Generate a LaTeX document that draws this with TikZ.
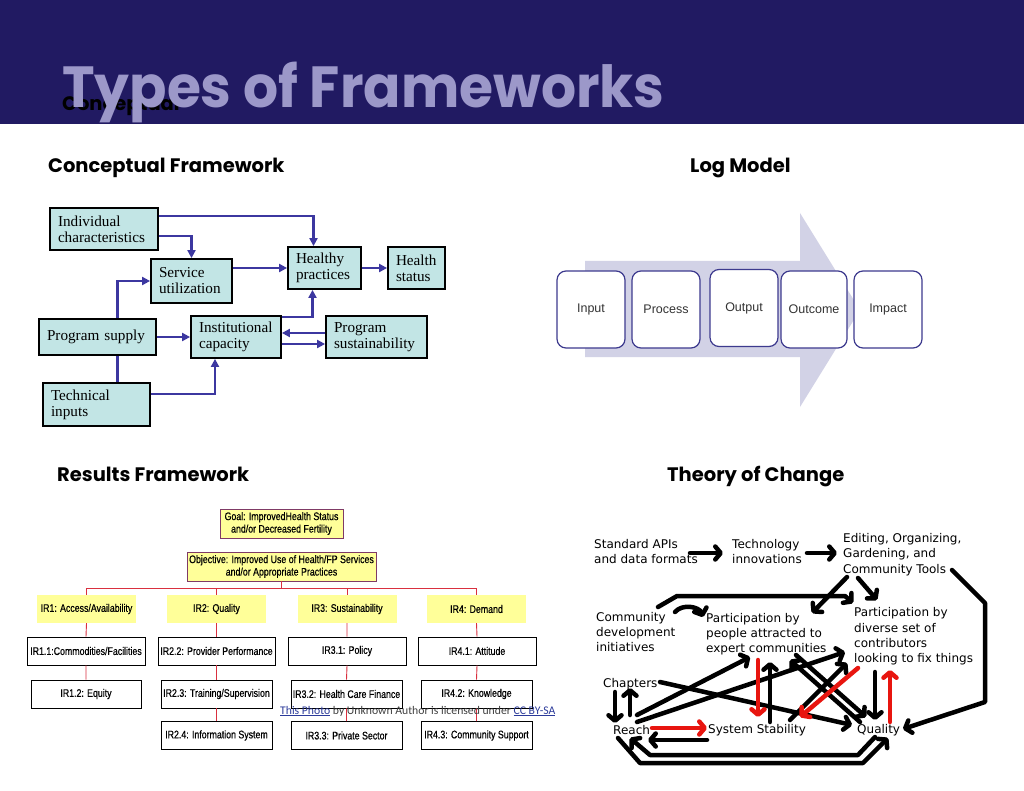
\documentclass[tikz,border=0pt]{standalone}
\usepackage{fontspec}
\setmainfont{Liberation Serif}
\newfontfamily\gothic{Poppins}
\newfontfamily\titlefont[FakeStretch=0.95]{Poppins}
\newfontfamily\arialfont{Liberation Sans}
\newfontfamily\narrowfont[FakeStretch=0.8,FakeBold=0.5]{Liberation Sans}
\newfontfamily\sketchfont{DejaVu Sans}
\newfontfamily\calibrifont{Carlito}
\usetikzlibrary{arrows.meta,positioning,calc}

\definecolor{barblue}{HTML}{211A62}
\definecolor{titlegray}{HTML}{9C98C9}
\definecolor{cfteal}{HTML}{C2E5E5}
\definecolor{cfblue}{HTML}{3C37A0}
\definecolor{logfill}{HTML}{D2D2E6}
\definecolor{logborder}{HTML}{3D3A8E}
\definecolor{rfyellow}{HTML}{FFFF99}
\definecolor{rfborder}{HTML}{7F3A66}
\definecolor{rfred}{HTML}{D9303F}
\definecolor{linkblue}{HTML}{2B3A9A}
\definecolor{tocredc}{HTML}{E8150F}

\begin{document}
\begin{tikzpicture}[x=1pt, y=-1pt,
    heading/.style={anchor=base west, inner sep=0pt, font=\gothic\bfseries\fontsize{19.5}{22}\selectfont, text=black},
    cfbox/.style={draw=black, line width=1.8pt, fill=cfteal, align=left, inner xsep=8pt, inner ysep=2pt, font=\fontsize{15.2}{16}\selectfont},
    cfarrow/.style={draw=cfblue, line width=2.3pt, -{Triangle[length=8pt,width=8pt]}},
    cfline/.style={draw=cfblue, line width=2.3pt},
    logbox/.style={draw=logborder, line width=1.2pt, fill=white, rounded corners=9pt, minimum width=68pt, minimum height=77pt, font=\arialfont\fontsize{12.5}{14}\selectfont, text=black!80},
    rfgoal/.style={draw=rfborder, line width=0.9pt, fill=rfyellow, align=center, inner sep=1pt, font=\narrowfont\fontsize{11}{12.5}\selectfont},
    rfir/.style={fill=rfyellow, minimum width=99pt, minimum height=28pt, inner sep=1pt, font=\narrowfont\fontsize{11}{12.5}\selectfont},
    rfsub/.style={draw=black, line width=0.9pt, fill=white, minimum height=28pt, inner sep=1pt, font=\narrowfont\fontsize{11}{12.5}\selectfont},
    rfline/.style={draw=rfred, line width=0.9pt},
    tocnode/.style={anchor=west, inner sep=0pt, align=left, font=\sketchfont\fontsize{12}{15.3}\selectfont},
    tocarrow/.style={draw=black, line width=4.5pt, line cap=round, line join=round, -{Straight Barb[length=5.5pt,width=13pt,round]}},
    tocred/.style={tocarrow, draw=tocredc}
]
\useasboundingbox (0,0) rectangle (1024,791);
\fill[white] (0,0) rectangle (1024,791);

% title bar
\fill[barblue] (0,0) rectangle (1024,124);
\node[heading] (ghost) at (62,111) {Conceptual};
\node[anchor=base west, inner sep=0pt, font=\titlefont\bfseries\fontsize{58}{58}\selectfont, text=titlegray] (title) at (62,108) {Types of Frameworks};

\node[heading] (cfhead) at (48,172.5) {Conceptual Framework};
\node[heading] (loghead) at (690,172.5) {Log Model};
\node[heading] (rfhead) at (57,481.5) {Results Framework};
\node[heading] (tochead) at (667,481.5) {Theory of Change};

% conceptual framework
\node[cfbox, text width=92pt, minimum height=42pt] (indiv) at (104,229) {Individual\\characteristics};
\node[cfbox, text width=65pt, minimum height=44pt] (service) at (191.5,281) {Service\\utilization};
\node[cfbox, text width=57pt, minimum height=42pt] (healthy) at (324.5,268) {Healthy\\practices};
\node[cfbox, text width=41pt, minimum height=42pt] (hstatus) at (416.5,268) {Health\\status};
\node[cfbox, text width=101pt, minimum height=36pt] (psupply) at (97.5,337) {Program supply};
\node[cfbox, text width=74pt, minimum height=42pt] (inst) at (236,337) {Institutional\\capacity};
\node[cfbox, text width=85pt, minimum height=42pt] (psust) at (376.5,337) {Program\\sustainability};
\node[cfbox, text width=91pt, minimum height=43pt] (tech) at (96.5,404.5) {Technical\\inputs};

\draw[cfarrow] ([yshift=-9pt]indiv.north east) -| ([xshift=-11pt]healthy.north);
\draw[cfarrow] ([yshift=-29pt]indiv.north east) -| (service.north);
\draw[cfarrow] (healthy.west -| service.east) -- (healthy.west);
\draw[cfarrow] (healthy.east) -- (hstatus.west);
\draw[cfarrow] ([xshift=20pt]psupply.north) |- (service.west);
\draw[cfarrow] (psupply.east) -- (psupply.east -| inst.west);
\draw[cfline] ([xshift=20pt]psupply.south) -- ([xshift=20pt]psupply.south |- tech.north);
\draw[cfarrow] ([yshift=-12pt]tech.north east) -| ([xshift=-21pt]inst.south);
\draw[cfarrow] ([yshift=-2pt]inst.north east) -| ([xshift=-12pt]healthy.south);
\draw[cfarrow] ([yshift=4pt]psust.west) -- ([yshift=4pt]psust.west -| inst.east);
\draw[cfarrow] ([yshift=-7pt]inst.east) -- ([yshift=-7pt]inst.east -| psust.west);

% log model
\fill[logfill] (585,261) -- (800,261) -- (800,213) -- (860,310) -- (800,407) -- (800,357) -- (585,357) -- cycle;
\node[logbox] (input) at (591,309.5) {Input};
\node[logbox] (process) at (666,309.5) {Process};
\node[logbox] (output) at (744,308) {Output};
\node[logbox, minimum width=66pt] (outcome) at (814,309.5) {Outcome};
\node[logbox] (impact) at (888,309.5) {Impact};

% results framework
\node[rfgoal, minimum width=123pt, minimum height=29pt] (goal) at (281.5,523.5) {Goal: ImprovedHealth Status\\and/or Decreased Fertility};
\node[rfgoal, minimum width=189pt, minimum height=29pt] (objective) at (281.5,566.5) {Objective: Improved Use of Health/FP Services\\and/or Appropriate Practices};
\node[rfir] (ir1) at (86.5,609) {IR1: Access/Availability};
\node[rfir] (ir2) at (216.5,609) {IR2: Quality};
\node[rfir] (ir3) at (347,609) {IR3: Sustainability};
\node[rfir] (ir4) at (476.5,609) {IR4: Demand};
\node[rfsub, minimum width=118pt] (ir11) at (86,651) {IR1.1:Commodities/Facilities};
\node[rfsub, minimum width=117pt] (ir22) at (216.5,651) {IR2.2: Provider Performance};
\node[rfsub, minimum width=118pt] (ir31) at (347,651) {IR3.1: Policy};
\node[rfsub, minimum width=118pt] (ir41) at (477,651) {IR4.1: Attitude};
\node[rfsub, minimum width=110pt] (ir12) at (86,694) {IR1.2: Equity};
\node[rfsub, minimum width=111pt] (ir23) at (216.5,694) {IR2.3: Training/Supervision};
\node[rfsub, minimum width=111pt] (ir32) at (346.5,694) {IR3.2: Health Care Finance};
\node[rfsub, minimum width=111pt] (ir42) at (476.5,694) {IR4.2: Knowledge};
\node[rfsub, minimum width=111pt] (ir24) at (216.5,735.5) {IR2.4: Information System};
\node[rfsub, minimum width=111pt] (ir33) at (346.5,735.5) {IR3.3: Private Sector};
\node[rfsub, minimum width=111pt] (ir43) at (476.5,735.5) {IR4.3: Community Support};

\coordinate[below=7pt of objective.south] (branch);
\draw[rfline] (objective.south) -- (branch);
\draw[rfline] (ir1.north |- branch) -- (ir4.north |- branch);
\draw[rfline] (ir1.north |- branch) -- (ir1.north) (ir2.north |- branch) -- (ir2.north)
  (ir3.north |- branch) -- (ir3.north) (ir4.north |- branch) -- (ir4.north);
\draw[rfline] (ir1.south) -- (ir11.north) (ir11.south) -- (ir12.north);
\draw[rfline] (ir2.south) -- (ir22.north) (ir22.south) -- (ir23.north) (ir23.south) -- (ir24.north);
\draw[rfline] (ir3.south) -- (ir31.north) (ir31.south) -- (ir32.north) (ir32.south) -- (ir33.north);
\draw[rfline] (ir4.south) -- (ir41.north) (ir41.south) -- (ir42.north) (ir42.south) -- (ir43.north);

\node[anchor=west, inner sep=0pt, font=\calibrifont\fontsize{11.7}{12}\selectfont, text=black!75] (credit) at (280,711)
  {\textcolor{linkblue}{\underline{This Photo}} by Unknown Author is licensed under \textcolor{linkblue}{\underline{CC BY-SA}}};

% theory of change
\node[tocnode] (apis) at (594,551.5) {Standard APIs\\and data formats};
\node[tocnode] (techinno) at (732,551.5) {Technology\\innovations};
\node[tocnode] (editing) at (843,554.5) {Editing, Organizing,\\Gardening, and\\Community Tools};
\node[tocnode] (community) at (596,632) {Community\\development\\initiatives};
\node[tocnode] (partpeople) at (706,634) {Participation by\\people attracted to\\expert communities};
\node[tocnode] (partdiverse) at (854,636.5) {Participation by\\diverse set of\\contributors\\looking to fix things};
\node[tocnode] (chapters) at (603,684) {Chapters};
\node[tocnode] (reach) at (613,730) {Reach};
\node[tocnode] (stability) at (708,730) {System Stability};
\node[tocnode] (quality) at (857,730) {Quality};

\draw[tocarrow] ($(apis.west)+(96,1.5)$) -- ($(techinno.west)+(-9,1.5)$);
\draw[tocarrow] ($(techinno.west)+(75,1.5)$) -- ($(editing.west)+(-6,-1.5)$);
\draw[tocarrow] ($(editing.west)+(4,22.5)$) -- ($(partpeople.west)+(106,-21)$);
\draw[tocarrow] ($(editing.west)+(15,23.5)$) -- ($(partdiverse.west)+(23,-36.5)$);
\draw[tocarrow] ($(community.west)+(62,-25)$) -- ($(community.west)+(81,-36)$) -- ($(partdiverse.west)+(-9,-40.5)$) -- ($(partdiverse.west)+(-1,-33.5)$);
\draw[tocarrow] ($(community.west)+(79,-20)$) to[bend left=60] ($(partpeople.west)+(-3,-17)$);
\draw[tocarrow] ($(editing.west)+(109,15.5)$) -- ++(33,33) -- ++(0,99) -- ($(quality.west)+(46,-1)$);
\draw[tocarrow] ($(chapters.west)+(12,8)$) -- ($(reach.west)+(2,-7)$);
\draw[tocarrow] ($(reach.west)+(17,-15)$) -- ($(chapters.west)+(27,4)$);
\draw[tocarrow] ($(reach.west)+(24,-15)$) -- ($(partpeople.west)+(44,23)$);
\draw[tocarrow] ($(reach.west)+(24,-8)$) -- ($(partdiverse.west)+(-9,15.5)$);
\draw[tocarrow] ($(chapters.west)+(57,-2)$) -- ($(quality.west)+(-5,-5)$);
\draw[tocred] ($(reach.west)+(39,-2)$) -- ($(stability.west)+(-1,-2)$);
\draw[tocarrow] ($(stability.west)+(-1,10)$) -- ($(reach.west)+(35,10)$);
\draw[tocred] ($(partpeople.west)+(52,26)$) -- ($(stability.west)+(50,-13)$);
\draw[tocarrow] ($(stability.west)+(62,-8)$) -- ($(partpeople.west)+(64,28)$);
\draw[tocarrow] ($(quality.west)+(3,-8)$) -- ($(partpeople.west)+(84,26)$);
\draw[tocarrow] ($(partpeople.west)+(90,21)$) -- ($(quality.west)+(9,-13)$);
\draw[tocarrow] ($(stability.west)+(82,-10)$) -- ($(partdiverse.west)+(-7,26.5)$);
\draw[tocred] ($(partdiverse.west)+(4,31.5)$) -- ($(stability.west)+(92,-13)$);
\draw[tocarrow] ($(partdiverse.west)+(21,35.5)$) -- ($(quality.west)+(18,-10)$);
\draw[tocred] ($(quality.west)+(33,-8)$) -- ($(partdiverse.west)+(36,33.5)$);
\draw[tocarrow] ($(reach.west)+(5,8)$) -- ++(22,25) -- ++(223,0) -- ($(quality.west)+(31,8)$);
\draw[tocarrow] ($(quality.west)+(18,7)$) -- ++(-17,18) -- ++(-208,0) -- ($(reach.west)+(17,8)$);

\end{tikzpicture}
\end{document}
